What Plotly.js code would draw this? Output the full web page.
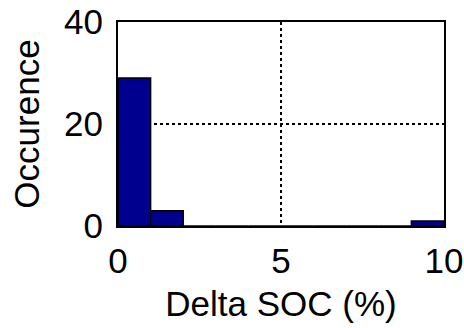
<!DOCTYPE html>
<html>
<head>
<meta charset="utf-8">
<script src="https://cdn.plot.ly/plotly-3.0.1.min.js"></script>
<style>html,body{margin:0;padding:0;background:#fff;}#chart{width:464px;height:328px;}</style>
</head>
<body>
<div id="chart"></div>
<script>
const binCenters = [0.5, 1.5, 2.5, 3.5, 4.5, 5.5, 6.5, 7.5, 8.5, 9.5];
const counts = [29, 3, 0, 0, 0, 0, 0, 0, 0, 1];
const xTicks = [0, 5, 10];
const yTicks = [0, 20, 40];
const xLabel = 'Delta SOC (%)';
const yLabel = 'Occurence';

const fontFam = 'Liberation Sans, Arial, sans-serif';
Plotly.newPlot('chart', [{
  type: 'bar',
  x: binCenters,
  y: counts,
  width: 1,
  marker: {color: '#00008F', line: {color: '#000', width: 1.5}},
  hoverinfo: 'skip'
}], {
  width: 464, height: 328,
  margin: {l: 118, r: 20, t: 22, b: 102},
  paper_bgcolor: '#fff', plot_bgcolor: '#fff',
  showlegend: false,
  bargap: 0,
  xaxis: {
    range: [0, 10], tickvals: xTicks, ticktext: xTicks.map(String),
    showline: true, mirror: true, linecolor: '#000', linewidth: 2,
    showgrid: true, gridcolor: '#000', griddash: 'dot', gridwidth: 2,
    zeroline: false, ticks: '', ticklabelstandoff: 3,
    tickfont: {family: fontFam, size: 35, color: '#000'},
    title: {text: xLabel, font: {family: fontFam, size: 35, color: '#000'}, standoff: 12}
  },
  yaxis: {
    range: [0, 40], tickvals: yTicks, ticktext: yTicks.map(String),
    showline: true, mirror: true, linecolor: '#000', linewidth: 2,
    showgrid: true, gridcolor: '#000', griddash: 'dot', gridwidth: 2,
    zeroline: false, ticks: '', ticklabelstandoff: 6,
    tickfont: {family: fontFam, size: 35, color: '#000'},
    title: {text: yLabel, font: {family: fontFam, size: 35, color: '#000'}, standoff: 14}
  }
}, {staticPlot: true, displayModeBar: false});
</script>
</body>
</html>
